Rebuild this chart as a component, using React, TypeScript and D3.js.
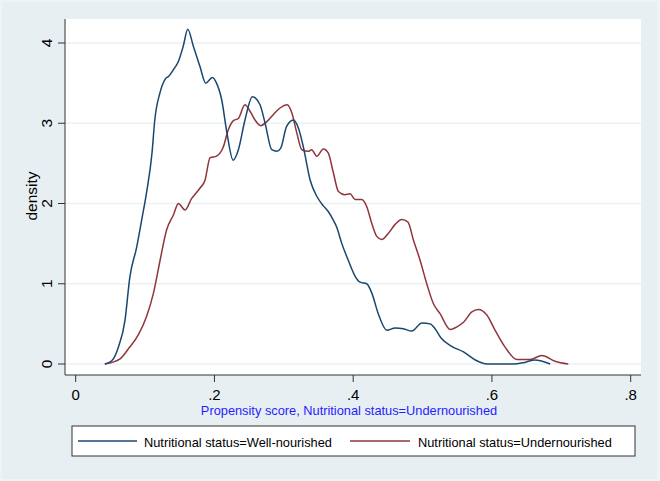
import React from "react";
import * as d3 from "d3";

const wellX = [0.042, 0.052, 0.0615, 0.071, 0.078, 0.088, 0.095, 0.102, 0.110, 0.114, 0.1215, 0.129, 0.1345, 0.141, 0.148, 0.155, 0.1615, 0.1696, 0.179, 0.1875, 0.197, 0.203, 0.2105, 0.218, 0.227, 0.2345, 0.244, 0.2547, 0.2657, 0.273, 0.2826, 0.29, 0.2956, 0.304, 0.3138, 0.321, 0.328, 0.338, 0.3475, 0.357, 0.364, 0.3715, 0.376, 0.3836, 0.393, 0.403, 0.41, 0.4196, 0.427, 0.436, 0.4485, 0.4605, 0.4724, 0.4845, 0.499, 0.511, 0.518, 0.527, 0.542, 0.559, 0.576, 0.593, 0.631, 0.647, 0.662, 0.684];
const wellY = [0, 0.04, 0.21, 0.54, 1.08, 1.46, 1.79, 2.13, 2.63, 3.04, 3.38, 3.55, 3.59, 3.67, 3.77, 3.96, 4.17, 3.96, 3.71, 3.5, 3.57, 3.5, 3.29, 2.88, 2.54, 2.67, 3.04, 3.33, 3.23, 3.0, 2.67, 2.65, 2.69, 2.96, 3.04, 2.94, 2.71, 2.29, 2.09, 1.97, 1.9, 1.79, 1.71, 1.5, 1.29, 1.09, 1.02, 1.0, 0.88, 0.63, 0.42, 0.45, 0.44, 0.41, 0.51, 0.5, 0.44, 0.32, 0.22, 0.15, 0.05, 0, 0, 0.02, 0.05, 0];

const underX = [0.042, 0.064, 0.076, 0.09, 0.102, 0.112, 0.1216, 0.131, 0.141, 0.148, 0.1576, 0.167, 0.179, 0.1864, 0.1937, 0.203, 0.213, 0.22, 0.227, 0.2345, 0.244, 0.2513, 0.2585, 0.2667, 0.2754, 0.285, 0.2946, 0.305, 0.3115, 0.3187, 0.326, 0.3354, 0.34, 0.3475, 0.357, 0.364, 0.3715, 0.3787, 0.388, 0.3955, 0.4027, 0.4124, 0.4196, 0.4268, 0.434, 0.441, 0.4508, 0.4605, 0.47, 0.4787, 0.487, 0.4965, 0.506, 0.5157, 0.525, 0.54, 0.549, 0.559, 0.571, 0.5805, 0.5926, 0.6046, 0.619, 0.636, 0.655, 0.672, 0.691, 0.71];
const underY = [0, 0.065, 0.19, 0.36, 0.59, 0.88, 1.29, 1.67, 1.86, 2.0, 1.92, 2.06, 2.19, 2.29, 2.57, 2.59, 2.71, 2.92, 3.03, 3.06, 3.23, 3.15, 3.04, 2.97, 3.02, 3.11, 3.19, 3.23, 3.13, 2.88, 2.67, 2.65, 2.67, 2.59, 2.68, 2.63, 2.38, 2.15, 2.11, 2.12, 2.05, 2.05, 1.96, 1.75, 1.59, 1.55, 1.63, 1.74, 1.8, 1.77, 1.54, 1.29, 1.0, 0.75, 0.63, 0.43, 0.46, 0.52, 0.65, 0.68, 0.61, 0.42, 0.21, 0.056, 0.056, 0.106, 0.035, 0];

const xTicks = [0, 0.2, 0.4, 0.6, 0.8];
const xTickLabels = ["0", ".2", ".4", ".6", ".8"];
const yTicks = [0, 1, 2, 3, 4];
const seriesNames = ["Nutritional status=Well-nourished", "Nutritional status=Undernourished"];
const seriesColors = ["#1a476f", "#90353b"];
const xTitle = "Propensity score, Nutritional status=Undernourished";
const yTitle = "density";

const W = 660, H = 481;
const plotL = 65, plotR = 641, plotT = 19, plotB = 375;
const font = "'Liberation Sans', Arial, sans-serif";

export default function App() {
  const x = d3.scaleLinear().domain([0, 0.8]).range([75.7, 630.7]);
  const y = d3.scaleLinear().domain([0, 4]).range([364, 43]);
  const line = d3.line<[number, number]>().x(d => x(d[0])).y(d => y(d[1])).curve(d3.curveMonotoneX);
  const well: [number, number][] = wellX.map((v, i) => [v, wellY[i]]);
  const under: [number, number][] = underX.map((v, i) => [v, underY[i]]);

  return (
    <svg width={W} height={H} style={{ position: "absolute", left: 0, top: 0, fontFamily: font }}>
      <rect x={0} y={0} width={W} height={H} fill="#eef3f5" />
      <rect x={2} y={2} width={W - 5} height={H - 4} fill="#e8eff2" />
      <rect x={plotL} y={plotT} width={plotR - plotL} height={plotB - plotT} fill="#ffffff" />
      {yTicks.map(t => (
        <line key={"g" + t} x1={plotL} x2={plotR} y1={y(t)} y2={y(t)} stroke="#eaf2f3" strokeWidth={1.3} />
      ))}
      <path d={line(under) || ""} fill="none" stroke={seriesColors[1]} strokeWidth={1.5} />
      <path d={line(well) || ""} fill="none" stroke={seriesColors[0]} strokeWidth={1.5} />
      <line x1={plotL} x2={plotL} y1={plotT} y2={plotB} stroke="#333" strokeWidth={1} />
      <line x1={plotL} x2={plotR} y1={plotB} y2={plotB} stroke="#333" strokeWidth={1} />
      {yTicks.map(t => (
        <g key={"yt" + t}>
          <line x1={plotL - 7} x2={plotL} y1={y(t)} y2={y(t)} stroke="#333" strokeWidth={1} />
          <text x={46.5} y={y(t)} transform={`rotate(-90, 46.5, ${y(t)})`} textAnchor="middle" dominantBaseline="central" fontSize={15.5} fill="#000">{t}</text>
        </g>
      ))}
      {xTicks.map((t, i) => (
        <g key={"xt" + t}>
          <line x1={x(t)} x2={x(t)} y1={plotB} y2={plotB + 7} stroke="#333" strokeWidth={1} />
          <text x={x(t)} y={400} textAnchor="middle" fontSize={15} fill="#000">{xTickLabels[i]}</text>
        </g>
      ))}
      <text x={349} y={414.5} textAnchor="middle" fontSize={12.8} fill="#1e1eff">{xTitle}</text>
      <text x={31} y={196} transform="rotate(-90, 31, 196)" textAnchor="middle" dominantBaseline="central" fontSize={15.5} fill="#000">{yTitle}</text>
      <rect x={72} y={426} width={563} height={30} fill="#ffffff" stroke="#333" strokeWidth={1} />
      <line x1={78} x2={137} y1={441} y2={441} stroke={seriesColors[0]} strokeWidth={1.5} />
      <text x={144} y={446.5} fontSize={12.8} fill="#000">{seriesNames[0]}</text>
      <line x1={350} x2={410} y1={441} y2={441} stroke={seriesColors[1]} strokeWidth={1.5} />
      <text x={418} y={446.5} fontSize={12.8} fill="#000">{seriesNames[1]}</text>
    </svg>
  );
}
